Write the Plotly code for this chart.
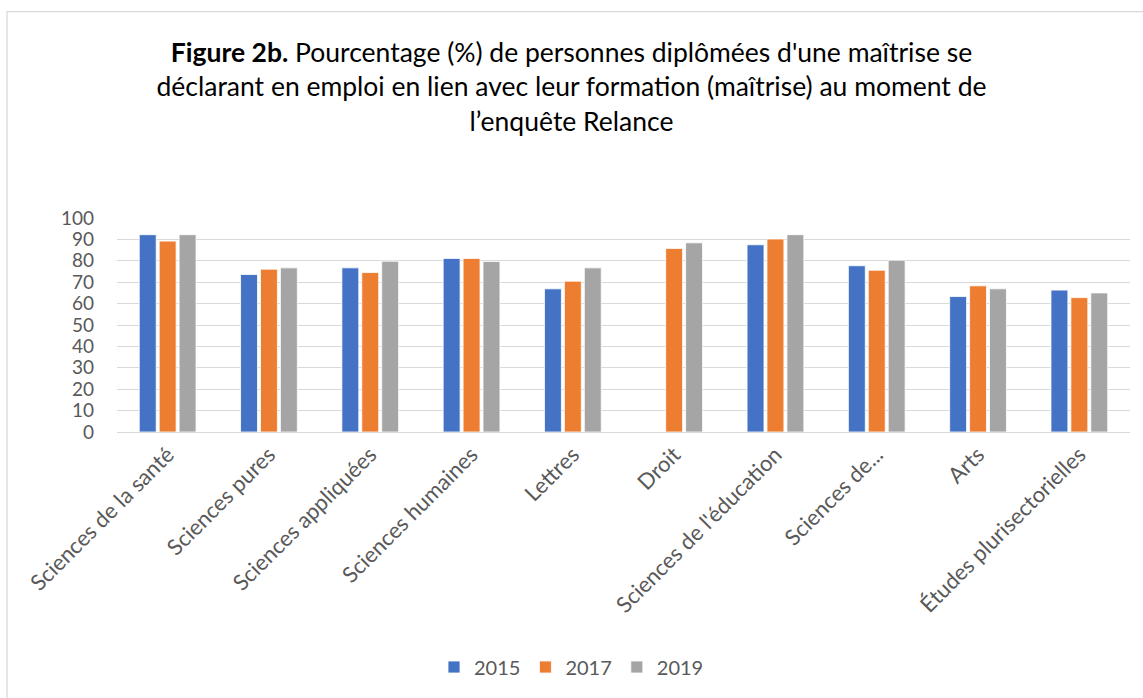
import plotly.graph_objects as go

categories = ["Sciences de la santé", "Sciences pures", "Sciences appliquées",
              "Sciences humaines", "Lettres", "Droit", "Sciences de l'éducation",
              "Sciences de...", "Arts", "Études plurisectorielles"]
v2015 = [92.2, 73.6, 76.7, 81.1, 66.9, None, 87.5, 77.7, 63.3, 66.3]
v2017 = [89.2, 76.1, 74.5, 81.1, 70.5, 85.8, 90.2, 75.6, 68.3, 62.8]
v2019 = [92.2, 76.7, 79.8, 79.7, 76.7, 88.4, 92.2, 80.3, 66.9, 65.0]
years = ["2015", "2017", "2019"]
colors = ["#4472C4", "#ED7D31", "#A5A5A5"]
yticks = [0, 10, 20, 30, 40, 50, 60, 70, 80, 90, 100]

fig = go.Figure()
for name, vals, col in zip(years, [v2015, v2017, v2019], colors):
    fig.add_trace(go.Bar(x=categories, y=vals, name=name,
                         marker=dict(color=col, line=dict(color="white", width=0.8))))

FONT = "Lato, Carlito, Calibri, sans-serif"
title = ("<b>Figure 2b.</b> Pourcentage (%) de personnes diplômées d'une maîtrise se<br>"
         "déclarant en emploi en lien avec leur formation (maîtrise) au moment de<br>"
         "l’enquête Relance")

fig.update_layout(
    width=1143, height=698,
    margin=dict(l=117, r=13, t=218, b=266),
    paper_bgcolor="white", plot_bgcolor="white",
    font=dict(family=FONT, color="#595959"),
    title=dict(text=title, x=0.5, xref="container", xanchor="center",
               y=1 - 62 / 698, yref="container", yanchor="top",
               font=dict(family=FONT, size=26.5, color="black")),
    barmode="group", bargap=0.41, bargroupgap=0.15,
    showlegend=True,
    legend=dict(orientation="h", x=0.5, xanchor="center", xref="container",
                y=31 / 698, yanchor="middle", yref="container",
                font=dict(family=FONT, size=20, color="#595959"),
                itemwidth=30, traceorder="normal"),
    xaxis=dict(tickangle=-45, tickfont=dict(family=FONT, size=22, color="#595959"),
               showline=True, linecolor="#D9D9D9", linewidth=1.3, ticks=""),
    yaxis=dict(range=[0, 100], tickvals=yticks, ticktext=[str(t) for t in yticks],
               tickfont=dict(family=FONT, size=19, color="#595959"),
               showgrid=True, gridcolor="#D9D9D9", gridwidth=1.3,
               zeroline=False, ticks="", ticklabelstandoff=22),
    shapes=[dict(type="rect", xref="paper", yref="paper",
                 x0=(7 - 117) / 1013, x1=(1150 - 117) / 1013,
                 y0=(432 - 705) / 213.3, y1=(432 - 13) / 213.3,
                 line=dict(color="#D9D9D9", width=1.3), fillcolor="rgba(0,0,0,0)",
                 layer="below")],
)

fig.write_html("out.html", config={"displayModeBar": False},
               post_script="document.body.style.margin='0';document.body.style.overflow='hidden';")
